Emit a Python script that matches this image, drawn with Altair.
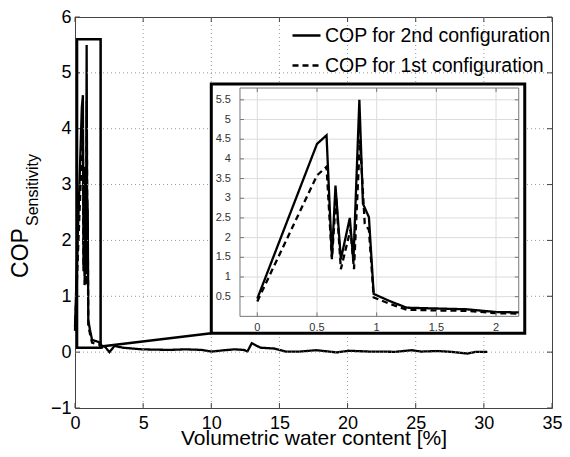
import altair as alt
import pandas as pd

# ---------------- data ----------------
series_names = ["COP for 2nd configuration", "COP for 1st configuration"]

# COP for 2nd configuration (solid)
sol_x = [0.0, 0.5, 0.58, 0.625, 0.655, 0.70, 0.775, 0.805, 0.855, 0.885, 0.935, 0.975, 1.1, 1.25, 1.5, 1.75, 2.0, 2.19,
         2.53, 2.89, 3.5, 4.9, 6.9, 8.1, 9.3, 10.0, 11.0, 11.7, 12.4, 12.65, 12.97, 13.6, 14.6, 15.5, 16.5, 17.7,
         19.2, 20.1, 21.6, 22.5, 23.5, 24.7, 25.4, 26.6, 27.6, 28.8, 29.4, 30.25]
sol_y = [0.45, 4.38, 4.6, 1.5, 3.32, 1.45, 2.5, 1.4, 5.5, 2.86, 2.52, 0.57, 0.4, 0.22, 0.2, 0.18, 0.11, 0.1,
         0.0, 0.11, 0.08, 0.05, 0.04, 0.05, 0.04, 0.01, 0.035, 0.05, 0.04, 0.01, 0.16, 0.08, 0.065, 0.01, 0.01, 0.035,
         -0.005, 0.025, 0.01, 0.01, 0.005, 0.035, 0.01, 0.02, 0.005, -0.025, 0.005, 0.005]

# COP for 1st configuration (dashed)
dash_x = [0.0, 0.5, 0.58, 0.625, 0.66, 0.70, 0.78, 0.81, 0.86, 0.9, 0.935, 0.975, 1.1, 1.25, 1.5, 1.75, 2.0, 2.19]
dash_y = [0.38, 3.58, 3.8, 1.45, 3.05, 1.2, 2.2, 1.2, 4.5, 2.35, 2.2, 0.48, 0.33, 0.17, 0.15, 0.14, 0.08, 0.07]

x_ticks = [0, 5, 10, 15, 20, 25, 30, 35]
y_ticks = [-1, 0, 1, 2, 3, 4, 5, 6]
x_grid = [5, 10, 15, 20, 25, 30]
y_grid = [0, 1, 2, 3, 4, 5]

inset_x_ticks = [0, 0.5, 1, 1.5, 2]
inset_y_ticks = [0.5, 1, 1.5, 2, 2.5, 3, 3.5, 4, 4.5, 5, 5.5]

# zoom rectangle, connector and inset box (main data units)
zoom_box = {"x0": [0.15], "x1": [1.88], "y0": [0.08], "y1": [5.6]}
connector = {"x0": [1.9], "y0": [0.1], "x1": [10.0], "y1": [0.34]}
inset_box = {"x0": [10.0], "x1": [33.0], "y0": [0.34], "y1": [4.8]}

x_title = "Volumetric water content [%]"
y_title_main = "COP"
y_title_sub = "Sensitivity"

# ---------------- layout ----------------
W, H = 477, 391
FONT = "Liberation Sans"
XD = [0, 35]
YD = [-1, 6]
MX = alt.Scale(domain=XD, nice=False, zero=False)
MY = alt.Scale(domain=YD, nice=False, zero=False)


def px(v):
    return (v - XD[0]) / (XD[1] - XD[0]) * W


def py(v):
    return (YD[1] - v) / (YD[1] - YD[0]) * H


AX_X = alt.Axis(
    values=x_ticks, title=x_title, grid=False, ticks=False, domain=False,
    labelFontSize=18, labelFont=FONT, labelColor="black", labelPadding=6,
    labelFlush=False, titleFontSize=21, titleFont=FONT, titleFontWeight="normal",
    titleColor="black", titleBaseline="alphabetic", titleY=36.5)
AX_Y = alt.Axis(
    values=y_ticks, title=None, grid=False, ticks=False, domain=False,
    labelFontSize=18, labelFont=FONT, labelColor="black", labelPadding=4,
    labelFlush=False)

# inset plotting area placed inside the inset box
IX_DOM = [-0.145, 2.19]
IY_DOM = [0, 5.8]
IX_RANGE = [px(inset_box["x0"][0]) + 28.7, px(inset_box["x1"][0]) - 6]
IY_RANGE = [py(inset_box["y0"][0]) - 16.8, py(inset_box["y1"][0]) + 4]
ISX = alt.Scale(domain=IX_DOM, range=IX_RANGE, nice=False, zero=False)
ISY = alt.Scale(domain=IY_DOM, range=IY_RANGE, nice=False, zero=False)

lines = pd.concat([
    pd.DataFrame({"x": sol_x, "y": sol_y, "series": series_names[0], "o": range(len(sol_x))}),
    pd.DataFrame({"x": dash_x, "y": dash_y, "series": series_names[1], "o": range(len(dash_x))}),
])

dash_scale = alt.Scale(domain=series_names, range=[[1, 0], [6, 4]])

# ---------------- main panel ----------------
gx = alt.Chart(pd.DataFrame({"g": x_grid})).mark_rule(
    color="#999", strokeDash=[1, 3], strokeWidth=1
).encode(x=alt.X("g:Q", scale=MX, axis=AX_X))

gy = alt.Chart(pd.DataFrame({"g": y_grid})).mark_rule(
    color="#999", strokeDash=[1, 3], strokeWidth=1
).encode(y=alt.Y("g:Q", scale=MY, axis=AX_Y))

tdf_x = pd.DataFrame({"t": x_ticks})
tdf_y = pd.DataFrame({"t": y_ticks})
tick_b = alt.Chart(tdf_x).mark_rule(color="#444").encode(
    x=alt.X("t:Q", scale=MX, axis=AX_X), y=alt.value(H), y2=alt.value(H - 5))
tick_t = alt.Chart(tdf_x).mark_rule(color="#444").encode(
    x=alt.X("t:Q", scale=MX, axis=AX_X), y=alt.value(0), y2=alt.value(5))
tick_l = alt.Chart(tdf_y).mark_rule(color="#444").encode(
    y=alt.Y("t:Q", scale=MY, axis=AX_Y), x=alt.value(0), x2=alt.value(5))
tick_r = alt.Chart(tdf_y).mark_rule(color="#444").encode(
    y=alt.Y("t:Q", scale=MY, axis=AX_Y), x=alt.value(W), x2=alt.value(W - 5))

main_lines = alt.Chart(lines).mark_line(color="black", strokeWidth=2.3).encode(
    x=alt.X("x:Q", scale=MX, axis=AX_X),
    y=alt.Y("y:Q", scale=MY, axis=AX_Y),
    strokeDash=alt.StrokeDash("series:N", scale=dash_scale, legend=alt.Legend(
        title=None, orient="none", legendX=216, legendY=3, symbolType="stroke",
        symbolSize=784, symbolStrokeWidth=2.3, symbolStrokeColor="black",
        labelFontSize=19.5, labelFont=FONT, labelColor="black", labelOffset=3,
        labelLimit=400, rowPadding=5, padding=0)),
    order="o:Q",
)

zoom_rect = alt.Chart(pd.DataFrame(zoom_box)).mark_rect(
    fill="transparent", stroke="black", strokeWidth=2.5
).encode(x=alt.X("x0:Q", scale=MX, axis=AX_X), x2="x1:Q",
         y=alt.Y("y0:Q", scale=MY, axis=AX_Y), y2="y1:Q")

conn = alt.Chart(pd.DataFrame(connector)).mark_rule(color="black", strokeWidth=2.5).encode(
    x=alt.X("x0:Q", scale=MX, axis=AX_X), x2="x1:Q",
    y=alt.Y("y0:Q", scale=MY, axis=AX_Y), y2="y1:Q")

box = alt.Chart(pd.DataFrame(inset_box)).mark_rect(
    fill="white", stroke="black", strokeWidth=3
).encode(x=alt.X("x0:Q", scale=MX, axis=AX_X), x2="x1:Q",
         y=alt.Y("y0:Q", scale=MY, axis=AX_Y), y2="y1:Q")

ytitle1 = alt.Chart(pd.DataFrame({"t": [y_title_main]})).mark_text(
    angle=270, fontSize=23, font=FONT, color="black", align="center", baseline="middle"
).encode(text="t:N", x=alt.value(-54), y=alt.value(236))
ytitle2 = alt.Chart(pd.DataFrame({"t": [y_title_sub]})).mark_text(
    angle=270, fontSize=16, font=FONT, color="black", align="center", baseline="middle"
).encode(text="t:N", x=alt.value(-42), y=alt.value(173))

main = alt.layer(main_lines, gx, gy, tick_b, tick_t, tick_l, tick_r, zoom_rect, conn, box,
                 ytitle1, ytitle2)

# ---------------- inset panel ----------------
igx = alt.Chart(pd.DataFrame({"g": inset_x_ticks, "lo": IY_DOM[0], "hi": IY_DOM[1]})).mark_rule(
    color="#dcdcdc", strokeWidth=1
).encode(x=alt.X("g:Q", scale=ISX, axis=None), y=alt.Y("lo:Q", scale=ISY, axis=None), y2="hi:Q")
igy = alt.Chart(pd.DataFrame({"g": inset_y_ticks, "lo": IX_DOM[0], "hi": IX_DOM[1]})).mark_rule(
    color="#dcdcdc", strokeWidth=1
).encode(y=alt.Y("g:Q", scale=ISY, axis=None), x=alt.X("lo:Q", scale=ISX, axis=None), x2="hi:Q")

iframe = alt.Chart(pd.DataFrame({"x0": [IX_DOM[0]], "x1": [IX_DOM[1]],
                                 "y0": [IY_DOM[0]], "y1": [IY_DOM[1]]})).mark_rect(
    fill="transparent", stroke="#777", strokeWidth=1
).encode(x=alt.X("x0:Q", scale=ISX, axis=None), x2="x1:Q",
         y=alt.Y("y0:Q", scale=ISY, axis=None), y2="y1:Q")

ilines = alt.Chart(lines).transform_filter("datum.x <= 2.19").mark_line(
    color="black", strokeWidth=2.3
).encode(
    x=alt.X("x:Q", scale=ISX, axis=None),
    y=alt.Y("y:Q", scale=ISY, axis=None),
    strokeDash=alt.StrokeDash("series:N", scale=dash_scale, legend=None),
    order="o:Q",
)

itx = pd.DataFrame({"t": inset_x_ticks})
ity = pd.DataFrame({"t": inset_y_ticks})
itick_b = alt.Chart(itx).mark_rule(color="#777").encode(
    x=alt.X("t:Q", scale=ISX, axis=None), y=alt.value(IY_RANGE[0]), y2=alt.value(IY_RANGE[0] - 4))
itick_t = alt.Chart(itx).mark_rule(color="#777").encode(
    x=alt.X("t:Q", scale=ISX, axis=None), y=alt.value(IY_RANGE[1]), y2=alt.value(IY_RANGE[1] + 4))
itick_l = alt.Chart(ity).mark_rule(color="#777").encode(
    y=alt.Y("t:Q", scale=ISY, axis=None), x=alt.value(IX_RANGE[0]), x2=alt.value(IX_RANGE[0] + 4))
itick_r = alt.Chart(ity).mark_rule(color="#777").encode(
    y=alt.Y("t:Q", scale=ISY, axis=None), x=alt.value(IX_RANGE[1]), x2=alt.value(IX_RANGE[1] - 4))

ilab_x = alt.Chart(itx).mark_text(
    fontSize=11, font=FONT, color="#333", baseline="top", align="center"
).encode(x=alt.X("t:Q", scale=ISX, axis=None), y=alt.value(IY_RANGE[0] + 6),
         text=alt.Text("t:Q", format="~g"))
ilab_y = alt.Chart(ity).mark_text(
    fontSize=11, font=FONT, color="#333", baseline="middle", align="right"
).encode(y=alt.Y("t:Q", scale=ISY, axis=None), x=alt.value(IX_RANGE[0] - 9),
         text=alt.Text("t:Q", format="~g"))

inset = alt.layer(igx, igy, iframe, ilines, itick_b, itick_t, itick_l, itick_r, ilab_x, ilab_y)

chart = alt.layer(main, inset).resolve_scale(
    x="independent", y="independent"
).properties(
    width=W, height=H,
    background="white",
    autosize=alt.AutoSizeParams(type="none"),
    padding={"left": 67, "top": 9, "right": 10, "bottom": 41},
).configure_view(
    stroke="#444", strokeWidth=1
)

chart.save("out.html", embed_options={"renderer": "svg", "actions": False})
